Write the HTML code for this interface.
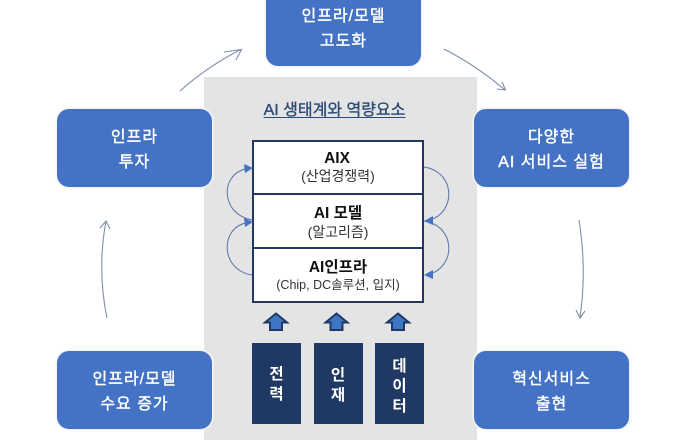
<!DOCTYPE html>
<html lang="ko">
<head>
<meta charset="utf-8">
<style>
html,body{margin:0;padding:0;background:#fff;}
#p{position:relative;width:686px;height:440px;overflow:hidden;background:#fff;font-family:"Liberation Sans","Noto Sans CJK KR",sans-serif;}
#p div{position:absolute;box-sizing:border-box;}
.b{width:155px;height:78px;background:#4472c4;border-radius:12px;color:#fff;font-size:16px;font-weight:400;-webkit-text-stroke:.4px #fff;text-align:center;line-height:25px;padding-top:15.500px;letter-spacing:1px;box-shadow:0 0 0 1.500px #f4f6fb;}
.c{left:252px;width:172px;text-align:center;color:#111;white-space:nowrap;}
.c1{font-size:15.500px;font-weight:700;line-height:18px;}
.c2{font-size:14px;line-height:16px;color:#333;}
.pl{width:49px;height:81px;top:343px;background:#1f3864;color:#fff;font-size:15.500px;font-weight:700;text-align:center;display:flex;flex-direction:column;justify-content:center;line-height:20px;}
</style>
</head>
<body>
<div id="p">
<div style="left:204px;top:77px;width:273px;height:363px;background:#e4e4e4"></div>

<div class="b" style="left:266px;top:-12px;">인프라/모델<br>고도화</div>
<div class="b" style="left:57px;top:109px;">인프라<br>투자</div>
<div class="b" style="left:474px;top:109px;">다양한<br>AI 서비스 실험</div>
<div class="b" style="left:57px;top:351px;">인프라/모델<br>수요 증가</div>
<div class="b" style="left:474px;top:351px;">혁신서비스<br>출현</div>

<div style="left:198px;top:101px;width:273px;text-align:center;font-size:16px;font-weight:400;-webkit-text-stroke:.35px #2c4a78;color:#2c4a78;line-height:20px;white-space:nowrap;"><span style="text-decoration:underline;text-underline-offset:2px">AI 생태계와 역량요소</span></div>

<div style="left:252px;top:140px;width:172px;height:163px;background:#fff;border:2px solid #26375f"></div>
<div style="left:252px;top:193px;width:172px;height:2px;background:#26375f"></div>
<div style="left:252px;top:247px;width:172px;height:2px;background:#26375f"></div>

<div class="c c1" style="top:150px;left:251px">AIX</div>
<div class="c c2" style="top:168px">(산업경쟁력)</div>
<div class="c c1" style="top:205px">AI 모델</div>
<div class="c c2" style="top:224px">(알고리즘)</div>
<div class="c c1" style="top:259px">AI인프라</div>
<div class="c c2" style="top:277px;font-size:12.500px">(Chip, DC솔루션, 입지)</div>

<div class="pl" style="left:252px;padding-top:3px">전<br>력</div>
<div class="pl" style="left:313.500px;padding-top:5px">인<br>재</div>
<div class="pl" style="left:375px;padding-top:7px">데<br>이<br>터</div>

<svg width="686" height="440" style="position:absolute;left:0;top:0" fill="none">
<g stroke="#7f8fa9" stroke-width="1.100">
<path d="M180 91 Q208 66 241 49.500"/>
<path d="M224 52 L241.500 49.500 L236 60"/>
<path d="M444 49 Q477 66 505 90"/>
<path d="M497 89 L505.500 90 L502 82"/>
<path d="M579 220 Q587 270 580 317"/>
<path d="M576 310 L580 318 L585 311"/>
<path d="M107 318 Q97 270 106 221"/>
<path d="M100 228 L106 221 L110 229"/>
</g>
<g stroke="#5a72a8" stroke-width="1">
<path d="M252 220 C 220 214,220 174,246 169"/>
<path d="M252 275 C 220 270,220 228,246 223"/>
<path d="M424 167 C 456 172,456 212,430 220"/>
<path d="M424 221 C 456 226,456 266,430 274"/>
</g>
<g fill="#4472c4">
<path d="M253 168 L244 164 L245 173Z"/>
<path d="M253 222 L244 218 L245 227Z"/>
<path d="M424 221 L433 216 L433 225Z"/>
<path d="M424 275 L433 270 L433 279Z"/>
</g>
<g fill="#3f76c4" stroke="#1f3864" stroke-width="2">
<path d="M276 313.500 L287 322.500 L282 322.500 L282 330 L270 330 L270 322.500 L265 322.500Z"/>
<path d="M336.500 313.500 L347.500 322.500 L342.500 322.500 L342.500 330 L330.500 330 L330.500 322.500 L325.500 322.500Z"/>
<path d="M398 313.500 L409 322.500 L404 322.500 L404 330 L392 330 L392 322.500 L387 322.500Z"/>
</g>
</svg>
</div>
</body>
</html>
